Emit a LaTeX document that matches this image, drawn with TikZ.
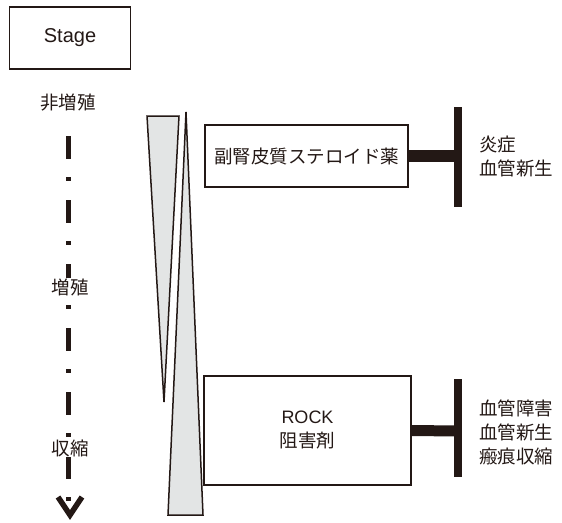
\documentclass[tikz,border=0pt]{standalone}
\usepackage{fontspec}
\setmainfont{Liberation Sans}
\newfontfamily\jp{Noto Sans CJK JP}
\definecolor{ink}{HTML}{231815}
\definecolor{wedge}{HTML}{E3E5E5}
\begin{document}
\begin{tikzpicture}[x=1pt,y=-1pt,
  every node/.style={text=ink,font=\jp\fontsize{18.5}{24}\selectfont},
  box/.style={draw=ink,line width=1.5pt,inner sep=0pt},
  lbl/.style={fill=white,inner sep=0.5pt},
  wedgestyle/.style={draw=ink,fill=wedge,line width=1.5pt,line join=miter},
  barh/.style={draw=ink,line width=12pt},
  barv/.style={draw=ink,line width=8pt}]
\useasboundingbox (0,0) rectangle (562,522);
% Stage box
\node[box,minimum width=121pt,minimum height=62pt,font=\fontsize{20}{24}\selectfont] (stage) at (70,38) {Stage};
% axis
\coordinate (axtop) at (68,136);
\coordinate (axbot) at (68,501);
\draw[ink,line width=5pt,dash pattern=on 23pt off 18pt on 4pt off 19pt] (axtop) -- (axbot);
\node (p1) at (68,103) {非増殖};
\node[lbl] (p2) at (70,287) {増殖};
\node[lbl] (p3) at (70,448) {収縮};
\coordinate (va) at (58,497);
\coordinate (vb) at (70,515);
\coordinate (vc) at (82,497);
\draw[ink,line width=5.5pt,miter limit=10] (va) -- (vb) -- (vc);
% wedges
\draw[wedgestyle] (147,116) -- (179,116) -- (164,402) -- cycle;
\draw[wedgestyle] (186,112) -- (203,515) -- (168,515) -- cycle;
% box 1
\node[box,minimum width=203pt,minimum height=62pt] (steroid) at (306.5,156) {副腎皮質ステロイド薬};
\coordinate (t1) at (458,156);
\draw[barh] (steroid.east) -- (t1);
\draw[barv] (458,107) -- (458,207);
\node[anchor=west,align=left,inner sep=0pt] (e1) at (479,157) {炎症\\血管新生};
% box 2
\node[box,minimum width=207pt,minimum height=109pt,align=center] (rock) at (307.5,430.5) {{\rmfamily\fontsize{18}{24}\selectfont ROCK}\\阻害剤};
\coordinate (t2) at (457,431);
\draw[barh,line width=11pt] (rock.east) -- (t2);
\draw[barv] (457.5,379) -- (457.5,477);
\node[anchor=west,align=left,inner sep=0pt] (e2) at (479,432) {血管障害\\血管新生\\瘢痕収縮};
\end{tikzpicture}
\end{document}
